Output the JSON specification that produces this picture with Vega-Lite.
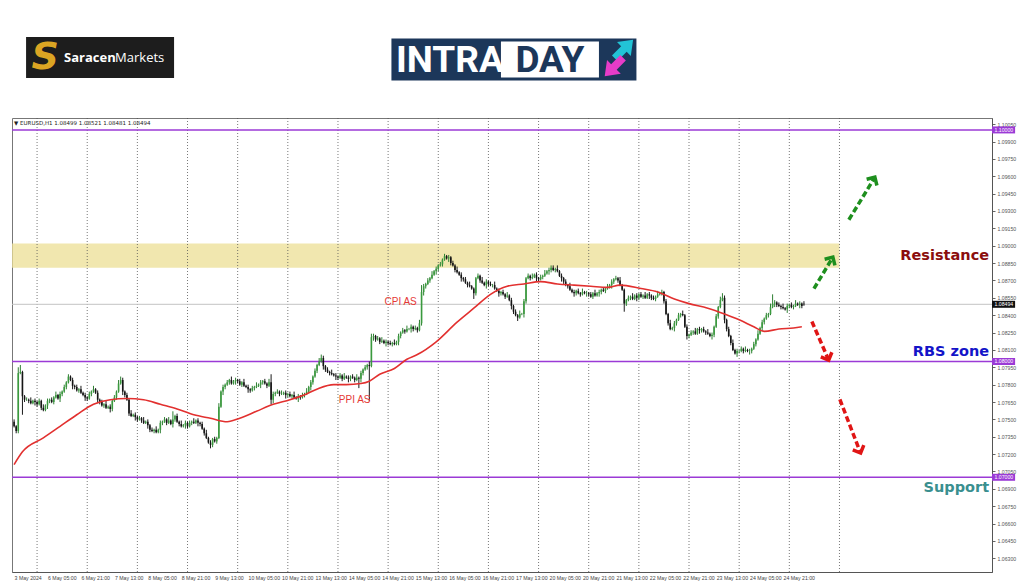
{
"$schema":"https://vega.github.io/schema/vega-lite/v6.json",
"padding":{"left":10,"top":0,"right":0,"bottom":0},
"background":"white",
"spacing":0,
"config":{"view":{"stroke":null},"axis":{"title":null,"labelFont":"Liberation Sans"},"text":{"font":"Liberation Sans"}},
"datasets":{
"logos":[{"brand":"SaracenMarkets"},{"brand":"INTRADAY"}],
"band":[{"i1":-1,"i2":395,"p1":1.0881,"p2":1.0902}],
"grid":[{"i":11},{"i":35},{"i":59},{"i":83},{"i":107},{"i":131},{"i":155},{"i":179},{"i":203},{"i":227},{"i":251},{"i":275},{"i":299},{"i":323},{"i":347},{"i":371},{"i":395}],
"tags":[{"p":1.1,"t":"1.10000","k":"lvl"},{"p":1.08,"t":"1.08000","k":"lvl"},{"p":1.07,"t":"1.07000","k":"lvl"},{"p":1.08494,"t":"1.08494","k":"px"}],
"notes":[{"t":"CPI AS","i":185,"p":1.0851},{"t":"PPI AS","i":163,"p":1.0767}],
"zones":[{"t":"Resistance","k":"r","i":466.6,"p":1.0891},{"t":"RBS zone","k":"b","i":466.6,"p":1.0808},{"t":"Support","k":"s","i":466.6,"p":1.06905}],
"arrows":[{"k":"up","i1":382.8,"p1":1.08629,"i2":391.4,"p2":1.08888},{"k":"up","i1":399.5,"p1":1.09224,"i2":411.5,"p2":1.09578},{"k":"down","i1":381.8,"p1":1.08345,"i2":389.5,"p2":1.08026},{"k":"down","i1":395.2,"p1":1.07672,"i2":404.8,"p2":1.07224}],
"hdr":[{"t":"▼ EURUSD,H1  1.08499 1.08521 1.08481 1.08494","i":0,"p":1.1006}],
"ma":[{"i":0,"m":1.0711},{"i":4,"m":1.0722},{"i":14,"m":1.0734},{"i":22,"m":1.0744},{"i":30,"m":1.0754},{"i":38,"m":1.0763},{"i":46,"m":1.0767},{"i":54,"m":1.0768},{"i":62,"m":1.0767},{"i":70,"m":1.0763},{"i":78,"m":1.0759},{"i":86,"m":1.0754},{"i":94,"m":1.0751},{"i":102,"m":1.0748},{"i":108,"m":1.0751},{"i":116,"m":1.0757},{"i":124,"m":1.0763},{"i":132,"m":1.0767},{"i":140,"m":1.0772},{"i":146,"m":1.0777},{"i":153,"m":1.078},{"i":159,"m":1.078},{"i":166,"m":1.0781},{"i":170,"m":1.0783},{"i":175,"m":1.0789},{"i":182,"m":1.0794},{"i":188,"m":1.0802},{"i":193,"m":1.0806},{"i":202,"m":1.0817},{"i":212,"m":1.0834},{"i":220,"m":1.0846},{"i":228,"m":1.0858},{"i":236,"m":1.0865},{"i":244,"m":1.0867},{"i":252,"m":1.0869},{"i":260,"m":1.0867},{"i":268,"m":1.0866},{"i":276,"m":1.0865},{"i":284,"m":1.0864},{"i":290,"m":1.0866},{"i":300,"m":1.0863},{"i":308,"m":1.086},{"i":316,"m":1.0854},{"i":323,"m":1.085},{"i":332,"m":1.0846},{"i":340,"m":1.0841},{"i":347,"m":1.0836},{"i":354,"m":1.083},{"i":359,"m":1.0826},{"i":366,"m":1.0828},{"i":373,"m":1.0829},{"i":377,"m":1.083}],
"c":[
{"i":0,"o":1.0748,"h":1.0750,"l":1.0743,"c":1.0744},
{"i":1,"o":1.0744,"h":1.0745,"l":1.0738,"c":1.0740},
{"i":2,"o":1.0740,"h":1.0795,"l":1.0738,"c":1.0790},
{"i":3,"o":1.0790,"h":1.0797,"l":1.0789,"c":1.0791},
{"i":4,"o":1.0791,"h":1.0792,"l":1.0754,"c":1.0770},
{"i":5,"o":1.0770,"h":1.0771,"l":1.0765,"c":1.0767},
{"i":6,"o":1.0767,"h":1.0769,"l":1.0766,"c":1.0767},
{"i":7,"o":1.0767,"h":1.0768,"l":1.0764,"c":1.0766},
{"i":8,"o":1.0766,"h":1.0769,"l":1.0763,"c":1.0764},
{"i":9,"o":1.0764,"h":1.0767,"l":1.0763,"c":1.0766},
{"i":10,"o":1.0766,"h":1.0768,"l":1.0762,"c":1.0765},
{"i":11,"o":1.0765,"h":1.0766,"l":1.0761,"c":1.0763},
{"i":12,"o":1.0763,"h":1.0768,"l":1.0762,"c":1.0766},
{"i":13,"o":1.0766,"h":1.0767,"l":1.0758,"c":1.0760},
{"i":14,"o":1.0760,"h":1.0763,"l":1.0757,"c":1.0758},
{"i":15,"o":1.0758,"h":1.0763,"l":1.0757,"c":1.0762},
{"i":16,"o":1.0762,"h":1.0768,"l":1.0759,"c":1.0766},
{"i":17,"o":1.0766,"h":1.0768,"l":1.0764,"c":1.0767},
{"i":18,"o":1.0767,"h":1.0769,"l":1.0764,"c":1.0765},
{"i":19,"o":1.0765,"h":1.0770,"l":1.0763,"c":1.0769},
{"i":20,"o":1.0769,"h":1.0774,"l":1.0768,"c":1.0771},
{"i":21,"o":1.0771,"h":1.0772,"l":1.0767,"c":1.0768},
{"i":22,"o":1.0768,"h":1.0774,"l":1.0765,"c":1.0772},
{"i":23,"o":1.0772,"h":1.0775,"l":1.0770,"c":1.0774},
{"i":24,"o":1.0774,"h":1.0780,"l":1.0773,"c":1.0778},
{"i":25,"o":1.0778,"h":1.0783,"l":1.0776,"c":1.0782},
{"i":26,"o":1.0782,"h":1.0789,"l":1.0781,"c":1.0787},
{"i":27,"o":1.0787,"h":1.0788,"l":1.0783,"c":1.0784},
{"i":28,"o":1.0784,"h":1.0786,"l":1.0776,"c":1.0779},
{"i":29,"o":1.0779,"h":1.0780,"l":1.0776,"c":1.0778},
{"i":30,"o":1.0778,"h":1.0780,"l":1.0774,"c":1.0775},
{"i":31,"o":1.0775,"h":1.0777,"l":1.0773,"c":1.0776},
{"i":32,"o":1.0776,"h":1.0779,"l":1.0772,"c":1.0773},
{"i":33,"o":1.0773,"h":1.0774,"l":1.0770,"c":1.0771},
{"i":34,"o":1.0771,"h":1.0773,"l":1.0766,"c":1.0769},
{"i":35,"o":1.0769,"h":1.0770,"l":1.0766,"c":1.0768},
{"i":36,"o":1.0768,"h":1.0774,"l":1.0767,"c":1.0772},
{"i":37,"o":1.0772,"h":1.0775,"l":1.0770,"c":1.0774},
{"i":38,"o":1.0774,"h":1.0779,"l":1.0773,"c":1.0776},
{"i":39,"o":1.0776,"h":1.0777,"l":1.0772,"c":1.0773},
{"i":40,"o":1.0773,"h":1.0775,"l":1.0764,"c":1.0767},
{"i":41,"o":1.0767,"h":1.0768,"l":1.0763,"c":1.0765},
{"i":42,"o":1.0765,"h":1.0767,"l":1.0761,"c":1.0762},
{"i":43,"o":1.0762,"h":1.0764,"l":1.0760,"c":1.0763},
{"i":44,"o":1.0763,"h":1.0766,"l":1.0759,"c":1.0760},
{"i":45,"o":1.0760,"h":1.0762,"l":1.0759,"c":1.0761},
{"i":46,"o":1.0761,"h":1.0763,"l":1.0756,"c":1.0759},
{"i":47,"o":1.0759,"h":1.0767,"l":1.0757,"c":1.0766},
{"i":48,"o":1.0766,"h":1.0771,"l":1.0765,"c":1.0769},
{"i":49,"o":1.0769,"h":1.0775,"l":1.0767,"c":1.0774},
{"i":50,"o":1.0774,"h":1.0784,"l":1.0773,"c":1.0781},
{"i":51,"o":1.0781,"h":1.0787,"l":1.0780,"c":1.0784},
{"i":52,"o":1.0784,"h":1.0786,"l":1.0771,"c":1.0774},
{"i":53,"o":1.0774,"h":1.0775,"l":1.0769,"c":1.0771},
{"i":54,"o":1.0771,"h":1.0773,"l":1.0766,"c":1.0767},
{"i":55,"o":1.0767,"h":1.0768,"l":1.0753,"c":1.0755},
{"i":56,"o":1.0755,"h":1.0758,"l":1.0752,"c":1.0753},
{"i":57,"o":1.0753,"h":1.0755,"l":1.0752,"c":1.0754},
{"i":58,"o":1.0754,"h":1.0756,"l":1.0749,"c":1.0752},
{"i":59,"o":1.0752,"h":1.0753,"l":1.0748,"c":1.0750},
{"i":60,"o":1.0750,"h":1.0753,"l":1.0749,"c":1.0751},
{"i":61,"o":1.0751,"h":1.0752,"l":1.0747,"c":1.0749},
{"i":62,"o":1.0749,"h":1.0752,"l":1.0746,"c":1.0747},
{"i":63,"o":1.0747,"h":1.0749,"l":1.0746,"c":1.0748},
{"i":64,"o":1.0748,"h":1.0750,"l":1.0742,"c":1.0745},
{"i":65,"o":1.0745,"h":1.0746,"l":1.0739,"c":1.0741},
{"i":66,"o":1.0741,"h":1.0743,"l":1.0739,"c":1.0740},
{"i":67,"o":1.0740,"h":1.0742,"l":1.0738,"c":1.0741},
{"i":68,"o":1.0741,"h":1.0744,"l":1.0738,"c":1.0739},
{"i":69,"o":1.0739,"h":1.0742,"l":1.0738,"c":1.0741},
{"i":70,"o":1.0741,"h":1.0749,"l":1.0738,"c":1.0747},
{"i":71,"o":1.0747,"h":1.0749,"l":1.0745,"c":1.0748},
{"i":72,"o":1.0748,"h":1.0752,"l":1.0747,"c":1.0750},
{"i":73,"o":1.0750,"h":1.0751,"l":1.0745,"c":1.0747},
{"i":74,"o":1.0747,"h":1.0752,"l":1.0746,"c":1.0749},
{"i":75,"o":1.0749,"h":1.0750,"l":1.0745,"c":1.0746},
{"i":76,"o":1.0746,"h":1.0757,"l":1.0743,"c":1.0750},
{"i":77,"o":1.0750,"h":1.0754,"l":1.0748,"c":1.0753},
{"i":78,"o":1.0753,"h":1.0755,"l":1.0747,"c":1.0748},
{"i":79,"o":1.0748,"h":1.0749,"l":1.0744,"c":1.0746},
{"i":80,"o":1.0746,"h":1.0749,"l":1.0743,"c":1.0744},
{"i":81,"o":1.0744,"h":1.0746,"l":1.0743,"c":1.0745},
{"i":82,"o":1.0745,"h":1.0749,"l":1.0742,"c":1.0747},
{"i":83,"o":1.0747,"h":1.0748,"l":1.0742,"c":1.0744},
{"i":84,"o":1.0744,"h":1.0749,"l":1.0743,"c":1.0747},
{"i":85,"o":1.0747,"h":1.0749,"l":1.0745,"c":1.0748},
{"i":86,"o":1.0748,"h":1.0751,"l":1.0746,"c":1.0747},
{"i":87,"o":1.0747,"h":1.0750,"l":1.0746,"c":1.0749},
{"i":88,"o":1.0749,"h":1.0751,"l":1.0744,"c":1.0747},
{"i":89,"o":1.0747,"h":1.0748,"l":1.0744,"c":1.0746},
{"i":90,"o":1.0746,"h":1.0748,"l":1.0741,"c":1.0742},
{"i":91,"o":1.0742,"h":1.0743,"l":1.0736,"c":1.0738},
{"i":92,"o":1.0738,"h":1.0741,"l":1.0733,"c":1.0734},
{"i":93,"o":1.0734,"h":1.0735,"l":1.0729,"c":1.0730},
{"i":94,"o":1.0730,"h":1.0732,"l":1.0725,"c":1.0728},
{"i":95,"o":1.0728,"h":1.0734,"l":1.0726,"c":1.0733},
{"i":96,"o":1.0733,"h":1.0735,"l":1.0730,"c":1.0731},
{"i":97,"o":1.0731,"h":1.0735,"l":1.0729,"c":1.0734},
{"i":98,"o":1.0734,"h":1.0764,"l":1.0733,"c":1.0761},
{"i":99,"o":1.0761,"h":1.0775,"l":1.0760,"c":1.0774},
{"i":100,"o":1.0774,"h":1.0780,"l":1.0771,"c":1.0778},
{"i":101,"o":1.0778,"h":1.0781,"l":1.0776,"c":1.0780},
{"i":102,"o":1.0780,"h":1.0784,"l":1.0779,"c":1.0782},
{"i":103,"o":1.0782,"h":1.0785,"l":1.0780,"c":1.0784},
{"i":104,"o":1.0784,"h":1.0787,"l":1.0780,"c":1.0781},
{"i":105,"o":1.0781,"h":1.0784,"l":1.0780,"c":1.0783},
{"i":106,"o":1.0783,"h":1.0786,"l":1.0780,"c":1.0784},
{"i":107,"o":1.0784,"h":1.0785,"l":1.0781,"c":1.0783},
{"i":108,"o":1.0783,"h":1.0785,"l":1.0779,"c":1.0780},
{"i":109,"o":1.0780,"h":1.0783,"l":1.0778,"c":1.0782},
{"i":110,"o":1.0782,"h":1.0785,"l":1.0778,"c":1.0779},
{"i":111,"o":1.0779,"h":1.0780,"l":1.0777,"c":1.0778},
{"i":112,"o":1.0778,"h":1.0780,"l":1.0773,"c":1.0776},
{"i":113,"o":1.0776,"h":1.0777,"l":1.0773,"c":1.0775},
{"i":114,"o":1.0775,"h":1.0779,"l":1.0774,"c":1.0777},
{"i":115,"o":1.0777,"h":1.0779,"l":1.0775,"c":1.0778},
{"i":116,"o":1.0778,"h":1.0782,"l":1.0777,"c":1.0779},
{"i":117,"o":1.0779,"h":1.0781,"l":1.0778,"c":1.0780},
{"i":118,"o":1.0780,"h":1.0784,"l":1.0777,"c":1.0782},
{"i":119,"o":1.0782,"h":1.0784,"l":1.0780,"c":1.0783},
{"i":120,"o":1.0783,"h":1.0785,"l":1.0780,"c":1.0781},
{"i":121,"o":1.0781,"h":1.0782,"l":1.0777,"c":1.0779},
{"i":122,"o":1.0779,"h":1.0785,"l":1.0778,"c":1.0782},
{"i":123,"o":1.0782,"h":1.0789,"l":1.0763,"c":1.0767},
{"i":124,"o":1.0767,"h":1.0774,"l":1.0764,"c":1.0772},
{"i":125,"o":1.0772,"h":1.0774,"l":1.0770,"c":1.0773},
{"i":126,"o":1.0773,"h":1.0776,"l":1.0772,"c":1.0774},
{"i":127,"o":1.0774,"h":1.0775,"l":1.0770,"c":1.0772},
{"i":128,"o":1.0772,"h":1.0775,"l":1.0771,"c":1.0772},
{"i":129,"o":1.0772,"h":1.0774,"l":1.0771,"c":1.0773},
{"i":130,"o":1.0773,"h":1.0775,"l":1.0768,"c":1.0771},
{"i":131,"o":1.0771,"h":1.0773,"l":1.0769,"c":1.0772},
{"i":132,"o":1.0772,"h":1.0774,"l":1.0769,"c":1.0770},
{"i":133,"o":1.0770,"h":1.0772,"l":1.0768,"c":1.0771},
{"i":134,"o":1.0771,"h":1.0774,"l":1.0768,"c":1.0769},
{"i":135,"o":1.0769,"h":1.0770,"l":1.0767,"c":1.0768},
{"i":136,"o":1.0768,"h":1.0772,"l":1.0765,"c":1.0770},
{"i":137,"o":1.0770,"h":1.0771,"l":1.0767,"c":1.0769},
{"i":138,"o":1.0769,"h":1.0773,"l":1.0768,"c":1.0771},
{"i":139,"o":1.0771,"h":1.0773,"l":1.0769,"c":1.0772},
{"i":140,"o":1.0772,"h":1.0777,"l":1.0771,"c":1.0774},
{"i":141,"o":1.0774,"h":1.0779,"l":1.0773,"c":1.0778},
{"i":142,"o":1.0778,"h":1.0784,"l":1.0775,"c":1.0782},
{"i":143,"o":1.0782,"h":1.0788,"l":1.0780,"c":1.0787},
{"i":144,"o":1.0787,"h":1.0794,"l":1.0786,"c":1.0792},
{"i":145,"o":1.0792,"h":1.0798,"l":1.0790,"c":1.0797},
{"i":146,"o":1.0797,"h":1.0803,"l":1.0796,"c":1.0800},
{"i":147,"o":1.0800,"h":1.0806,"l":1.0799,"c":1.0803},
{"i":148,"o":1.0803,"h":1.0805,"l":1.0793,"c":1.0796},
{"i":149,"o":1.0796,"h":1.0797,"l":1.0791,"c":1.0793},
{"i":150,"o":1.0793,"h":1.0795,"l":1.0790,"c":1.0791},
{"i":151,"o":1.0791,"h":1.0792,"l":1.0788,"c":1.0790},
{"i":152,"o":1.0790,"h":1.0793,"l":1.0788,"c":1.0789},
{"i":153,"o":1.0789,"h":1.0790,"l":1.0787,"c":1.0788},
{"i":154,"o":1.0788,"h":1.0790,"l":1.0784,"c":1.0787},
{"i":155,"o":1.0787,"h":1.0788,"l":1.0784,"c":1.0786},
{"i":156,"o":1.0786,"h":1.0790,"l":1.0785,"c":1.0788},
{"i":157,"o":1.0788,"h":1.0789,"l":1.0783,"c":1.0785},
{"i":158,"o":1.0785,"h":1.0790,"l":1.0784,"c":1.0787},
{"i":159,"o":1.0787,"h":1.0788,"l":1.0785,"c":1.0786},
{"i":160,"o":1.0786,"h":1.0788,"l":1.0782,"c":1.0785},
{"i":161,"o":1.0785,"h":1.0788,"l":1.0783,"c":1.0787},
{"i":162,"o":1.0787,"h":1.0789,"l":1.0785,"c":1.0786},
{"i":163,"o":1.0786,"h":1.0787,"l":1.0782,"c":1.0784},
{"i":164,"o":1.0784,"h":1.0789,"l":1.0783,"c":1.0786},
{"i":165,"o":1.0786,"h":1.0787,"l":1.0777,"c":1.0785},
{"i":166,"o":1.0785,"h":1.0792,"l":1.0782,"c":1.0790},
{"i":167,"o":1.0790,"h":1.0794,"l":1.0788,"c":1.0793},
{"i":168,"o":1.0793,"h":1.0797,"l":1.0792,"c":1.0795},
{"i":169,"o":1.0795,"h":1.0798,"l":1.0793,"c":1.0797},
{"i":170,"o":1.0797,"h":1.0800,"l":1.0766,"c":1.0796},
{"i":171,"o":1.0796,"h":1.0824,"l":1.0795,"c":1.0821},
{"i":172,"o":1.0821,"h":1.0824,"l":1.0818,"c":1.0822},
{"i":173,"o":1.0822,"h":1.0823,"l":1.0817,"c":1.0819},
{"i":174,"o":1.0819,"h":1.0822,"l":1.0818,"c":1.0820},
{"i":175,"o":1.0820,"h":1.0821,"l":1.0815,"c":1.0817},
{"i":176,"o":1.0817,"h":1.0821,"l":1.0816,"c":1.0818},
{"i":177,"o":1.0818,"h":1.0819,"l":1.0815,"c":1.0816},
{"i":178,"o":1.0816,"h":1.0819,"l":1.0813,"c":1.0817},
{"i":179,"o":1.0817,"h":1.0818,"l":1.0814,"c":1.0816},
{"i":180,"o":1.0816,"h":1.0818,"l":1.0814,"c":1.0815},
{"i":181,"o":1.0815,"h":1.0817,"l":1.0813,"c":1.0816},
{"i":182,"o":1.0816,"h":1.0819,"l":1.0814,"c":1.0815},
{"i":183,"o":1.0815,"h":1.0818,"l":1.0814,"c":1.0817},
{"i":184,"o":1.0817,"h":1.0824,"l":1.0814,"c":1.0822},
{"i":185,"o":1.0822,"h":1.0826,"l":1.0820,"c":1.0825},
{"i":186,"o":1.0825,"h":1.0829,"l":1.0824,"c":1.0827},
{"i":187,"o":1.0827,"h":1.0828,"l":1.0824,"c":1.0826},
{"i":188,"o":1.0826,"h":1.0831,"l":1.0825,"c":1.0828},
{"i":189,"o":1.0828,"h":1.0829,"l":1.0827,"c":1.0828},
{"i":190,"o":1.0828,"h":1.0832,"l":1.0825,"c":1.0830},
{"i":191,"o":1.0830,"h":1.0831,"l":1.0826,"c":1.0828},
{"i":192,"o":1.0828,"h":1.0831,"l":1.0827,"c":1.0829},
{"i":193,"o":1.0829,"h":1.0830,"l":1.0825,"c":1.0827},
{"i":194,"o":1.0827,"h":1.0836,"l":1.0826,"c":1.0833},
{"i":195,"o":1.0833,"h":1.0866,"l":1.0831,"c":1.0860},
{"i":196,"o":1.0860,"h":1.0867,"l":1.0857,"c":1.0865},
{"i":197,"o":1.0865,"h":1.0868,"l":1.0863,"c":1.0867},
{"i":198,"o":1.0867,"h":1.0872,"l":1.0866,"c":1.0870},
{"i":199,"o":1.0870,"h":1.0873,"l":1.0868,"c":1.0872},
{"i":200,"o":1.0872,"h":1.0878,"l":1.0871,"c":1.0875},
{"i":201,"o":1.0875,"h":1.0879,"l":1.0874,"c":1.0878},
{"i":202,"o":1.0878,"h":1.0882,"l":1.0875,"c":1.0880},
{"i":203,"o":1.0880,"h":1.0884,"l":1.0878,"c":1.0883},
{"i":204,"o":1.0883,"h":1.0886,"l":1.0882,"c":1.0884},
{"i":205,"o":1.0884,"h":1.0889,"l":1.0882,"c":1.0888},
{"i":206,"o":1.0888,"h":1.0893,"l":1.0887,"c":1.0891},
{"i":207,"o":1.0891,"h":1.0892,"l":1.0888,"c":1.0889},
{"i":208,"o":1.0889,"h":1.0892,"l":1.0886,"c":1.0890},
{"i":209,"o":1.0890,"h":1.0891,"l":1.0883,"c":1.0885},
{"i":210,"o":1.0885,"h":1.0887,"l":1.0882,"c":1.0883},
{"i":211,"o":1.0883,"h":1.0884,"l":1.0877,"c":1.0879},
{"i":212,"o":1.0879,"h":1.0882,"l":1.0876,"c":1.0877},
{"i":213,"o":1.0877,"h":1.0878,"l":1.0874,"c":1.0875},
{"i":214,"o":1.0875,"h":1.0877,"l":1.0869,"c":1.0872},
{"i":215,"o":1.0872,"h":1.0873,"l":1.0869,"c":1.0871},
{"i":216,"o":1.0871,"h":1.0873,"l":1.0867,"c":1.0868},
{"i":217,"o":1.0868,"h":1.0869,"l":1.0864,"c":1.0866},
{"i":218,"o":1.0866,"h":1.0869,"l":1.0864,"c":1.0865},
{"i":219,"o":1.0865,"h":1.0866,"l":1.0862,"c":1.0863},
{"i":220,"o":1.0863,"h":1.0864,"l":1.0854,"c":1.0859},
{"i":221,"o":1.0859,"h":1.0873,"l":1.0857,"c":1.0872},
{"i":222,"o":1.0872,"h":1.0876,"l":1.0871,"c":1.0874},
{"i":223,"o":1.0874,"h":1.0875,"l":1.0868,"c":1.0870},
{"i":224,"o":1.0870,"h":1.0873,"l":1.0867,"c":1.0868},
{"i":225,"o":1.0868,"h":1.0869,"l":1.0865,"c":1.0866},
{"i":226,"o":1.0866,"h":1.0871,"l":1.0863,"c":1.0869},
{"i":227,"o":1.0869,"h":1.0870,"l":1.0865,"c":1.0867},
{"i":228,"o":1.0867,"h":1.0869,"l":1.0865,"c":1.0866},
{"i":229,"o":1.0866,"h":1.0867,"l":1.0864,"c":1.0866},
{"i":230,"o":1.0866,"h":1.0869,"l":1.0862,"c":1.0863},
{"i":231,"o":1.0863,"h":1.0864,"l":1.0860,"c":1.0861},
{"i":232,"o":1.0861,"h":1.0863,"l":1.0856,"c":1.0859},
{"i":233,"o":1.0859,"h":1.0861,"l":1.0857,"c":1.0860},
{"i":234,"o":1.0860,"h":1.0862,"l":1.0857,"c":1.0858},
{"i":235,"o":1.0858,"h":1.0859,"l":1.0854,"c":1.0856},
{"i":236,"o":1.0856,"h":1.0860,"l":1.0855,"c":1.0857},
{"i":237,"o":1.0857,"h":1.0858,"l":1.0852,"c":1.0853},
{"i":238,"o":1.0853,"h":1.0855,"l":1.0845,"c":1.0848},
{"i":239,"o":1.0848,"h":1.0849,"l":1.0841,"c":1.0843},
{"i":240,"o":1.0843,"h":1.0845,"l":1.0839,"c":1.0840},
{"i":241,"o":1.0840,"h":1.0841,"l":1.0835,"c":1.0838},
{"i":242,"o":1.0838,"h":1.0844,"l":1.0837,"c":1.0841},
{"i":243,"o":1.0841,"h":1.0842,"l":1.0840,"c":1.0841},
{"i":244,"o":1.0841,"h":1.0854,"l":1.0838,"c":1.0852},
{"i":245,"o":1.0852,"h":1.0873,"l":1.0850,"c":1.0872},
{"i":246,"o":1.0872,"h":1.0876,"l":1.0871,"c":1.0874},
{"i":247,"o":1.0874,"h":1.0875,"l":1.0870,"c":1.0872},
{"i":248,"o":1.0872,"h":1.0876,"l":1.0871,"c":1.0873},
{"i":249,"o":1.0873,"h":1.0876,"l":1.0872,"c":1.0875},
{"i":250,"o":1.0875,"h":1.0877,"l":1.0869,"c":1.0872},
{"i":251,"o":1.0872,"h":1.0873,"l":1.0869,"c":1.0871},
{"i":252,"o":1.0871,"h":1.0875,"l":1.0870,"c":1.0873},
{"i":253,"o":1.0873,"h":1.0875,"l":1.0871,"c":1.0874},
{"i":254,"o":1.0874,"h":1.0879,"l":1.0873,"c":1.0876},
{"i":255,"o":1.0876,"h":1.0879,"l":1.0875,"c":1.0878},
{"i":256,"o":1.0878,"h":1.0881,"l":1.0875,"c":1.0879},
{"i":257,"o":1.0879,"h":1.0883,"l":1.0877,"c":1.0881},
{"i":258,"o":1.0881,"h":1.0883,"l":1.0878,"c":1.0879},
{"i":259,"o":1.0879,"h":1.0881,"l":1.0877,"c":1.0880},
{"i":260,"o":1.0880,"h":1.0883,"l":1.0877,"c":1.0878},
{"i":261,"o":1.0878,"h":1.0879,"l":1.0873,"c":1.0874},
{"i":262,"o":1.0874,"h":1.0876,"l":1.0869,"c":1.0872},
{"i":263,"o":1.0872,"h":1.0873,"l":1.0867,"c":1.0869},
{"i":264,"o":1.0869,"h":1.0871,"l":1.0865,"c":1.0866},
{"i":265,"o":1.0866,"h":1.0867,"l":1.0863,"c":1.0865},
{"i":266,"o":1.0865,"h":1.0868,"l":1.0861,"c":1.0862},
{"i":267,"o":1.0862,"h":1.0863,"l":1.0859,"c":1.0860},
{"i":268,"o":1.0860,"h":1.0862,"l":1.0856,"c":1.0859},
{"i":269,"o":1.0859,"h":1.0862,"l":1.0857,"c":1.0861},
{"i":270,"o":1.0861,"h":1.0863,"l":1.0858,"c":1.0859},
{"i":271,"o":1.0859,"h":1.0860,"l":1.0856,"c":1.0858},
{"i":272,"o":1.0858,"h":1.0863,"l":1.0857,"c":1.0860},
{"i":273,"o":1.0860,"h":1.0861,"l":1.0858,"c":1.0859},
{"i":274,"o":1.0859,"h":1.0861,"l":1.0856,"c":1.0859},
{"i":275,"o":1.0859,"h":1.0860,"l":1.0856,"c":1.0858},
{"i":276,"o":1.0858,"h":1.0860,"l":1.0855,"c":1.0856},
{"i":277,"o":1.0856,"h":1.0860,"l":1.0854,"c":1.0859},
{"i":278,"o":1.0859,"h":1.0862,"l":1.0856,"c":1.0857},
{"i":279,"o":1.0857,"h":1.0860,"l":1.0856,"c":1.0859},
{"i":280,"o":1.0859,"h":1.0862,"l":1.0856,"c":1.0860},
{"i":281,"o":1.0860,"h":1.0863,"l":1.0858,"c":1.0862},
{"i":282,"o":1.0862,"h":1.0864,"l":1.0860,"c":1.0861},
{"i":283,"o":1.0861,"h":1.0864,"l":1.0859,"c":1.0863},
{"i":284,"o":1.0863,"h":1.0867,"l":1.0862,"c":1.0864},
{"i":285,"o":1.0864,"h":1.0867,"l":1.0863,"c":1.0866},
{"i":286,"o":1.0866,"h":1.0871,"l":1.0863,"c":1.0869},
{"i":287,"o":1.0869,"h":1.0872,"l":1.0867,"c":1.0871},
{"i":288,"o":1.0871,"h":1.0874,"l":1.0870,"c":1.0872},
{"i":289,"o":1.0872,"h":1.0873,"l":1.0868,"c":1.0870},
{"i":290,"o":1.0870,"h":1.0873,"l":1.0865,"c":1.0866},
{"i":291,"o":1.0866,"h":1.0867,"l":1.0861,"c":1.0862},
{"i":292,"o":1.0862,"h":1.0863,"l":1.0843,"c":1.0850},
{"i":293,"o":1.0850,"h":1.0854,"l":1.0848,"c":1.0853},
{"i":294,"o":1.0853,"h":1.0857,"l":1.0852,"c":1.0855},
{"i":295,"o":1.0855,"h":1.0857,"l":1.0853,"c":1.0856},
{"i":296,"o":1.0856,"h":1.0859,"l":1.0853,"c":1.0854},
{"i":297,"o":1.0854,"h":1.0858,"l":1.0853,"c":1.0857},
{"i":298,"o":1.0857,"h":1.0859,"l":1.0852,"c":1.0855},
{"i":299,"o":1.0855,"h":1.0859,"l":1.0853,"c":1.0858},
{"i":300,"o":1.0858,"h":1.0860,"l":1.0855,"c":1.0856},
{"i":301,"o":1.0856,"h":1.0858,"l":1.0854,"c":1.0857},
{"i":302,"o":1.0857,"h":1.0860,"l":1.0854,"c":1.0855},
{"i":303,"o":1.0855,"h":1.0859,"l":1.0854,"c":1.0858},
{"i":304,"o":1.0858,"h":1.0860,"l":1.0854,"c":1.0857},
{"i":305,"o":1.0857,"h":1.0858,"l":1.0853,"c":1.0855},
{"i":306,"o":1.0855,"h":1.0857,"l":1.0853,"c":1.0854},
{"i":307,"o":1.0854,"h":1.0857,"l":1.0852,"c":1.0856},
{"i":308,"o":1.0856,"h":1.0861,"l":1.0855,"c":1.0858},
{"i":309,"o":1.0858,"h":1.0860,"l":1.0857,"c":1.0859},
{"i":310,"o":1.0859,"h":1.0862,"l":1.0857,"c":1.0860},
{"i":311,"o":1.0860,"h":1.0861,"l":1.0850,"c":1.0852},
{"i":312,"o":1.0852,"h":1.0854,"l":1.0840,"c":1.0841},
{"i":313,"o":1.0841,"h":1.0842,"l":1.0831,"c":1.0833},
{"i":314,"o":1.0833,"h":1.0836,"l":1.0827,"c":1.0828},
{"i":315,"o":1.0828,"h":1.0830,"l":1.0827,"c":1.0829},
{"i":316,"o":1.0829,"h":1.0835,"l":1.0826,"c":1.0833},
{"i":317,"o":1.0833,"h":1.0837,"l":1.0831,"c":1.0836},
{"i":318,"o":1.0836,"h":1.0842,"l":1.0835,"c":1.0840},
{"i":319,"o":1.0840,"h":1.0842,"l":1.0838,"c":1.0841},
{"i":320,"o":1.0841,"h":1.0844,"l":1.0839,"c":1.0840},
{"i":321,"o":1.0840,"h":1.0841,"l":1.0829,"c":1.0830},
{"i":322,"o":1.0830,"h":1.0832,"l":1.0819,"c":1.0822},
{"i":323,"o":1.0822,"h":1.0824,"l":1.0820,"c":1.0823},
{"i":324,"o":1.0823,"h":1.0827,"l":1.0822,"c":1.0825},
{"i":325,"o":1.0825,"h":1.0827,"l":1.0823,"c":1.0826},
{"i":326,"o":1.0826,"h":1.0829,"l":1.0823,"c":1.0824},
{"i":327,"o":1.0824,"h":1.0829,"l":1.0823,"c":1.0828},
{"i":328,"o":1.0828,"h":1.0830,"l":1.0824,"c":1.0827},
{"i":329,"o":1.0827,"h":1.0829,"l":1.0825,"c":1.0828},
{"i":330,"o":1.0828,"h":1.0830,"l":1.0825,"c":1.0826},
{"i":331,"o":1.0826,"h":1.0827,"l":1.0823,"c":1.0825},
{"i":332,"o":1.0825,"h":1.0828,"l":1.0823,"c":1.0824},
{"i":333,"o":1.0824,"h":1.0825,"l":1.0821,"c":1.0822},
{"i":334,"o":1.0822,"h":1.0825,"l":1.0819,"c":1.0823},
{"i":335,"o":1.0823,"h":1.0831,"l":1.0821,"c":1.0830},
{"i":336,"o":1.0830,"h":1.0841,"l":1.0829,"c":1.0839},
{"i":337,"o":1.0839,"h":1.0848,"l":1.0837,"c":1.0847},
{"i":338,"o":1.0847,"h":1.0856,"l":1.0846,"c":1.0853},
{"i":339,"o":1.0853,"h":1.0859,"l":1.0852,"c":1.0855},
{"i":340,"o":1.0855,"h":1.0857,"l":1.0833,"c":1.0836},
{"i":341,"o":1.0836,"h":1.0837,"l":1.0826,"c":1.0828},
{"i":342,"o":1.0828,"h":1.0830,"l":1.0821,"c":1.0822},
{"i":343,"o":1.0822,"h":1.0823,"l":1.0814,"c":1.0816},
{"i":344,"o":1.0816,"h":1.0819,"l":1.0809,"c":1.0810},
{"i":345,"o":1.0810,"h":1.0811,"l":1.0806,"c":1.0807},
{"i":346,"o":1.0807,"h":1.0811,"l":1.0804,"c":1.0809},
{"i":347,"o":1.0809,"h":1.0810,"l":1.0807,"c":1.0809},
{"i":348,"o":1.0809,"h":1.0813,"l":1.0808,"c":1.0811},
{"i":349,"o":1.0811,"h":1.0812,"l":1.0807,"c":1.0809},
{"i":350,"o":1.0809,"h":1.0813,"l":1.0808,"c":1.0810},
{"i":351,"o":1.0810,"h":1.0811,"l":1.0808,"c":1.0809},
{"i":352,"o":1.0809,"h":1.0811,"l":1.0806,"c":1.0809},
{"i":353,"o":1.0809,"h":1.0812,"l":1.0807,"c":1.0811},
{"i":354,"o":1.0811,"h":1.0817,"l":1.0810,"c":1.0815},
{"i":355,"o":1.0815,"h":1.0820,"l":1.0813,"c":1.0819},
{"i":356,"o":1.0819,"h":1.0827,"l":1.0818,"c":1.0824},
{"i":357,"o":1.0824,"h":1.0830,"l":1.0823,"c":1.0829},
{"i":358,"o":1.0829,"h":1.0836,"l":1.0826,"c":1.0834},
{"i":359,"o":1.0834,"h":1.0838,"l":1.0832,"c":1.0837},
{"i":360,"o":1.0837,"h":1.0842,"l":1.0836,"c":1.0840},
{"i":361,"o":1.0840,"h":1.0842,"l":1.0838,"c":1.0841},
{"i":362,"o":1.0841,"h":1.0850,"l":1.0840,"c":1.0847},
{"i":363,"o":1.0847,"h":1.0858,"l":1.0846,"c":1.0850},
{"i":364,"o":1.0850,"h":1.0853,"l":1.0847,"c":1.0851},
{"i":365,"o":1.0851,"h":1.0852,"l":1.0847,"c":1.0849},
{"i":366,"o":1.0849,"h":1.0851,"l":1.0847,"c":1.0848},
{"i":367,"o":1.0848,"h":1.0849,"l":1.0845,"c":1.0847},
{"i":368,"o":1.0847,"h":1.0850,"l":1.0845,"c":1.0846},
{"i":369,"o":1.0846,"h":1.0847,"l":1.0844,"c":1.0845},
{"i":370,"o":1.0845,"h":1.0850,"l":1.0842,"c":1.0848},
{"i":371,"o":1.0848,"h":1.0850,"l":1.0846,"c":1.0849},
{"i":372,"o":1.0849,"h":1.0851,"l":1.0846,"c":1.0847},
{"i":373,"o":1.0847,"h":1.0849,"l":1.0845,"c":1.0848},
{"i":374,"o":1.0848,"h":1.0853,"l":1.0847,"c":1.0850},
{"i":375,"o":1.0850,"h":1.0851,"l":1.0848,"c":1.0849},
{"i":376,"o":1.0849,"h":1.0852,"l":1.0846,"c":1.0850},
{"i":377,"o":1.0850,"h":1.0851,"l":1.0846,"c":1.0848},
{"i":378,"o":1.08499,"h":1.08521,"l":1.08481,"c":1.08494}
]
},
"vconcat":[
{
"width":590,"height":117,
"data":{"name":"logos"},
"encoding":{"x":{"field":"brand","type":"nominal","scale":{"type":"point","domain":["SaracenMarkets","INTRADAY"],"padding":0.2128},"axis":null}},
"layer":[
{"transform":[{"filter":"datum.brand==='SaracenMarkets'"}],"mark":{"type":"point","shape":"M-1,-0.2905H1V0.2635H-1Z","size":21904,"filled":true,"color":"#1d1d1d","opacity":1,"strokeWidth":0}},
{"transform":[{"filter":"datum.brand==='SaracenMarkets'"}],"mark":{"type":"text","text":"S","dx":-55,"dy":-1,"fontSize":38,"fontWeight":"bold","fontStyle":"italic","font":"DejaVu Sans","color":"#dba523"}},
{"transform":[{"filter":"datum.brand==='SaracenMarkets'"}],"mark":{"type":"text","text":"Saracen","align":"left","dx":-36,"dy":-1,"fontSize":13,"fontWeight":"bold","font":"Open Sans","color":"#ffffff"}},
{"transform":[{"filter":"datum.brand==='SaracenMarkets'"}],"mark":{"type":"text","text":"Markets","align":"left","dx":15,"dy":-1,"fontSize":13,"font":"Open Sans","color":"#ffffff"}},
{"transform":[{"filter":"datum.brand==='INTRADAY'"}],"mark":{"type":"point","shape":"M-1,-0.164H1V0.18H-1Z","size":60025,"filled":true,"color":"#1c375a","opacity":1,"strokeWidth":0}},
{"transform":[{"filter":"datum.brand==='INTRADAY'"}],"mark":{"type":"point","shape":"M-0.265,-0.347H1.735V0.388H-0.265Z","size":9604,"filled":true,"color":"#ffffff","opacity":1,"strokeWidth":0}},
{"transform":[{"filter":"datum.brand==='INTRADAY'"}],"mark":{"type":"point","shape":"M7.541,-0.235L8.248,-0.942L7.93,-1.26L9.167,-1.437L8.99,-0.2L8.672,-0.518L7.965,0.189Z","size":676,"filled":true,"color":"#22c4d6","opacity":1,"strokeWidth":0}},
{"transform":[{"filter":"datum.brand==='INTRADAY'"}],"mark":{"type":"point","shape":"M8.609,0.155L7.902,0.862L8.22,1.18L6.983,1.357L7.16,0.12L7.478,0.438L8.185,-0.269Z","size":676,"filled":true,"color":"#e63cc8","opacity":1,"strokeWidth":0}},
{"transform":[{"filter":"datum.brand==='INTRADAY'"}],"mark":{"type":"text","text":"INTRA","align":"left","dx":-118,"dy":2,"fontSize":37,"fontWeight":"bold","font":"Roboto","color":"#ffffff"}},
{"transform":[{"filter":"datum.brand==='INTRADAY'"}],"mark":{"type":"text","text":"DAY","align":"center","dx":36,"dy":2,"fontSize":37,"fontWeight":"bold","font":"Roboto","color":"#1c375a"}}
]
},
{
"width":980,"height":454,
"view":{"stroke":"#777","strokeWidth":1},
"layer":[
{"data":{"name":"band"},"mark":{"type":"rect","color":"#ecdf94","opacity":0.75},
 "encoding":{
  "x":{"field":"i1","type":"quantitative","scale":{"domain":[-1,468],"nice":false,"zero":false,"padding":0},
   "axis":{"orient":"bottom","values":[0,16,32,48,64,80,96,112,128,144,160,176,192,208,224,240,256,272,288,304,320,336,352,368],"tickCount":40,"labelExpr":"['3 May 2024','6 May 05:00','6 May 21:00','7 May 13:00','8 May 05:00','8 May 21:00','9 May 13:00','10 May 05:00','10 May 21:00','13 May 13:00','14 May 05:00','14 May 21:00','15 May 13:00','16 May 05:00','16 May 21:00','17 May 13:00','20 May 05:00','20 May 21:00','21 May 13:00','22 May 05:00','22 May 21:00','23 May 13:00','24 May 05:00','24 May 21:00'][round(datum.value/16)]","labelAlign":"left","labelFontSize":5.2,"labelColor":"#444","labelOverlap":false,"labelFlush":false,"labelPadding":3,"ticks":false,"grid":false,"domainColor":"#555"}},
  "x2":{"field":"i2"},
  "y":{"field":"p1","type":"quantitative","scale":{"domain":[1.06182,1.10103],"nice":false,"zero":false,"padding":0},
   "axis":{"orient":"right","values":[1.063,1.0645,1.066,1.0675,1.069,1.0705,1.072,1.0735,1.075,1.0765,1.078,1.0795,1.081,1.0825,1.084,1.0855,1.087,1.0885,1.09,1.0915,1.093,1.0945,1.096,1.0975,1.099,1.1005],"tickCount":40,"format":".5f","labelFontSize":5.2,"labelColor":"#555","tickSize":3,"tickColor":"#666","domainColor":"#555","labelPadding":2,"grid":false,"labelFlush":false,"labelOverlap":false}},
  "y2":{"field":"p2"}}},
{"data":{"name":"grid"},"mark":{"type":"rule","color":"#555","strokeWidth":0.8,"strokeDash":[1,2]},"encoding":{"x":{"field":"i","type":"quantitative"}}},
{"data":{"name":"tags"},"transform":[{"filter":"datum.k==='lvl'"}],"mark":{"type":"rule","color":"#9b3ad6","strokeWidth":1.5},"encoding":{"y":{"field":"p","type":"quantitative"}}},
{"data":{"name":"tags"},"transform":[{"filter":"datum.k==='px'"}],"mark":{"type":"rule","color":"#c4c4c4","strokeWidth":1},"encoding":{"y":{"field":"p","type":"quantitative"}}},
{"data":{"name":"c"},"mark":{"type":"rule","strokeWidth":1},"encoding":{"x":{"field":"i","type":"quantitative"},"y":{"field":"l","type":"quantitative"},"y2":{"field":"h"},"color":{"condition":{"test":"datum.c>=datum.o","value":"#2f7f33"},"value":"#1a1a1a"}}},
{"data":{"name":"c"},"mark":{"type":"bar","size":1.6},"encoding":{"x":{"field":"i","type":"quantitative"},"y":{"field":"o","type":"quantitative"},"y2":{"field":"c"},"color":{"condition":{"test":"datum.c>=datum.o","value":"#3a9a3e"},"value":"#151515"}}},
{"data":{"name":"ma"},"mark":{"type":"line","color":"#e2302f","strokeWidth":1.6,"interpolate":"monotone"},"encoding":{"x":{"field":"i","type":"quantitative"},"y":{"field":"m","type":"quantitative"}}},
{"data":{"name":"notes"},"mark":{"type":"text","color":"#e53935","fontSize":10,"font":"Liberation Sans"},"encoding":{"x":{"field":"i","type":"quantitative"},"y":{"field":"p","type":"quantitative"},"text":{"field":"t"}}},
{"data":{"name":"zones"},"mark":{"type":"text","align":"right","fontSize":14.5,"fontWeight":"bold","font":"DejaVu Sans"},"encoding":{"x":{"field":"i","type":"quantitative"},"y":{"field":"p","type":"quantitative"},"text":{"field":"t"},"color":{"condition":[{"test":"datum.k==='r'","value":"#8b0d0d"},{"test":"datum.k==='b'","value":"#1414c8"}],"value":"#3a8f8f"}}},
{"data":{"name":"arrows"},"mark":{"type":"rule","strokeWidth":3.5,"strokeDash":[6,3]},"encoding":{"x":{"field":"i1","type":"quantitative"},"y":{"field":"p1","type":"quantitative"},"x2":{"field":"i2"},"y2":{"field":"p2"},"color":{"condition":{"test":"datum.k==='up'","value":"#1e8f1e"},"value":"#e01515"}}},
{"data":{"name":"arrows"},"transform":[{"filter":"datum.k==='up'"}],"mark":{"type":"point","shape":"M-1,0.7L0,-0.3L1,0.7","size":144,"filled":false,"color":"#1e8f1e","strokeWidth":3.5,"opacity":1,"angle":31},"encoding":{"x":{"field":"i2","type":"quantitative"},"y":{"field":"p2","type":"quantitative"}}},
{"data":{"name":"arrows"},"transform":[{"filter":"datum.k==='down'"}],"mark":{"type":"point","shape":"M-1,0.7L0,-0.3L1,0.7","size":144,"filled":false,"color":"#e01515","strokeWidth":3.5,"opacity":1,"angle":157},"encoding":{"x":{"field":"i2","type":"quantitative"},"y":{"field":"p2","type":"quantitative"}}},
{"data":{"name":"tags"},"mark":{"type":"point","shape":"M0,-1H6.6V1H0Z","size":49,"filled":true,"opacity":1,"strokeWidth":0},"encoding":{"x":{"datum":468},"y":{"field":"p","type":"quantitative"},"color":{"condition":{"test":"datum.k==='px'","value":"#111111"},"value":"#9b3ad6"}}},
{"data":{"name":"tags"},"mark":{"type":"text","align":"left","dx":2.5,"fontSize":5.2,"color":"#ffffff"},"encoding":{"x":{"datum":468},"y":{"field":"p","type":"quantitative"},"text":{"field":"t"}}},
{"data":{"name":"hdr"},"mark":{"type":"text","align":"left","fontSize":5.5,"color":"#222","font":"DejaVu Sans"},"encoding":{"x":{"field":"i","type":"quantitative"},"y":{"field":"p","type":"quantitative"},"text":{"field":"t"}}}
]
}
]
}
